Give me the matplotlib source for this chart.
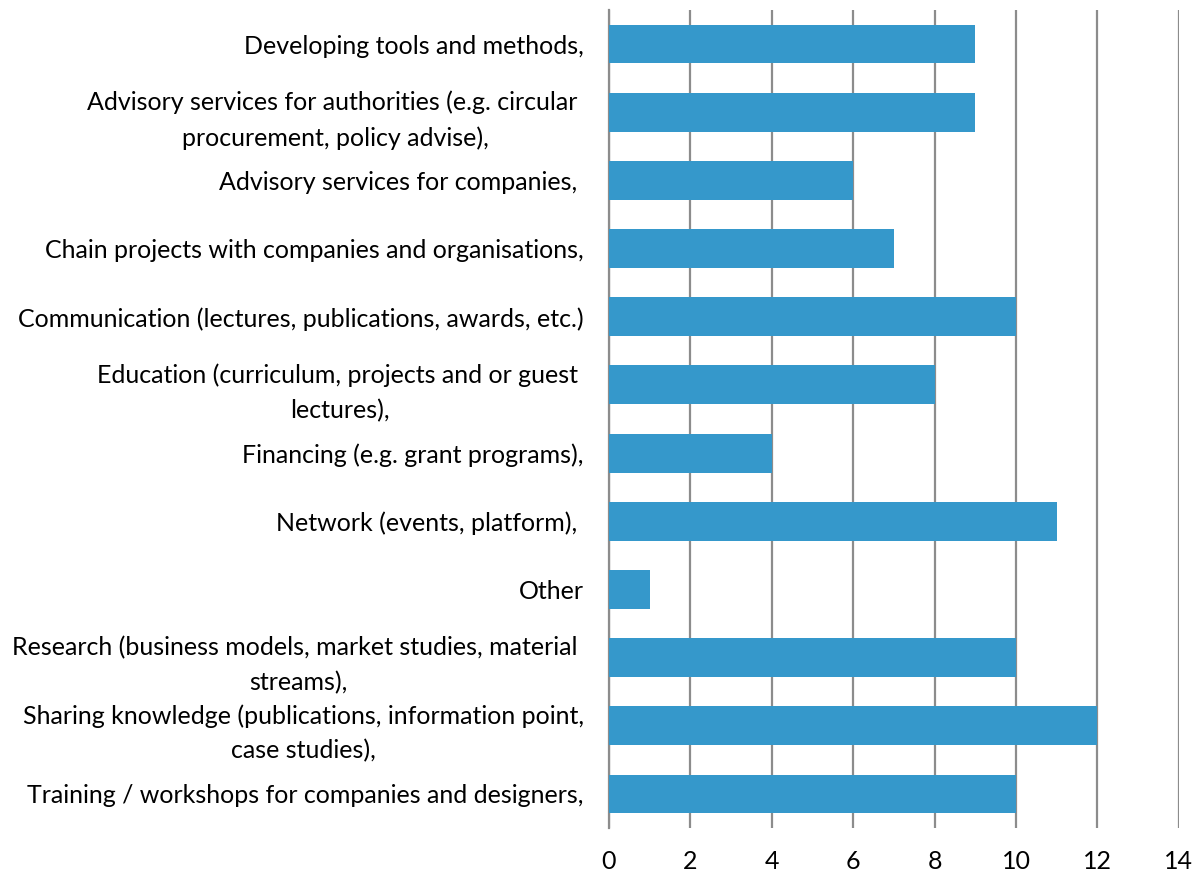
import matplotlib.pyplot as plt

categories = [
    'Developing tools and methods,',
    'Advisory services for authorities (e.g. circular \nprocurement, policy advise),',
    'Advisory services for companies, ',
    'Chain projects with companies and organisations,',
    'Communication (lectures, publications, awards, etc.)',
    'Education (curriculum, projects and or guest \nlectures),',
    'Financing (e.g. grant programs),',
    'Network (events, platform), ',
    'Other',
    'Research (business models, market studies, material \nstreams),',
    'Sharing knowledge (publications, information point,\ncase studies),',
    'Training / workshops for companies and designers,',
]
values = [9, 9, 6, 7, 10, 8, 4, 11, 1, 10, 12, 10]
x_ticks = [0, 2, 4, 6, 8, 10, 12, 14]

plt.rcParams['font.family'] = ['Lato', 'DejaVu Sans']

fig = plt.figure(figsize=(12.01, 8.74), dpi=100)
ax = fig.add_axes([0.507, 0.0526, 0.4746, 0.936])

pos = list(range(len(categories)))
ax.barh(pos, values, height=0.57, color='#3598cb', zorder=3)

ax.set_ylim(len(categories) - 0.5, -0.5)
ax.set_xlim(0, 14)
ax.set_xticks(x_ticks)
ax.set_xticklabels([str(t) for t in x_ticks], fontsize=18)
ax.set_yticks(pos)
ax.set_yticklabels(categories, fontsize=18, multialignment='center',
                   linespacing=1.6)

ax.grid(axis='x', color='#8c8c8c', linewidth=1.6, zorder=0)
for s in ['top', 'right', 'bottom']:
    ax.spines[s].set_visible(False)
ax.spines['left'].set_color('#8c8c8c')
ax.spines['left'].set_linewidth(1.6)
ax.tick_params(axis='y', length=0, pad=18)
ax.tick_params(axis='x', length=0, pad=16)

fig.savefig('out.png', dpi=100)
